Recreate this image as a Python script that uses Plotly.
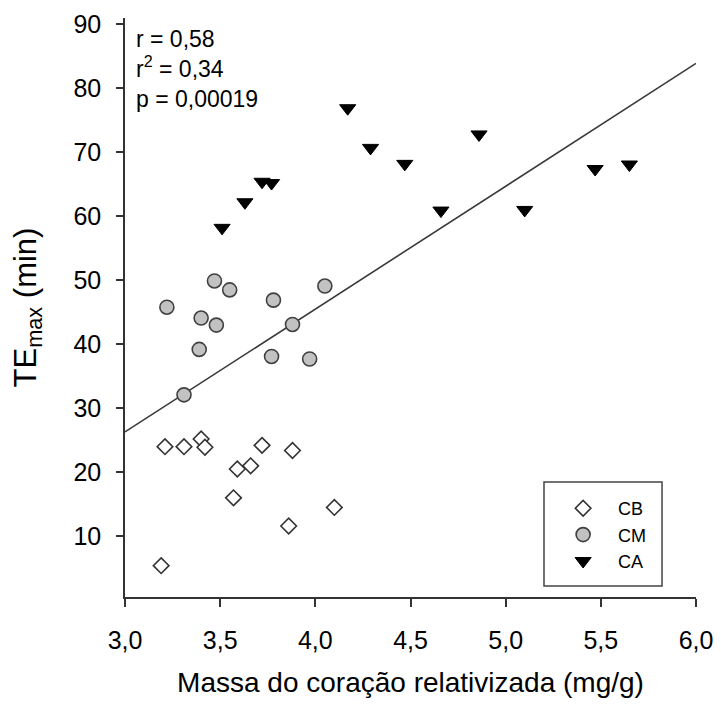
import plotly.graph_objects as go

# ---- data ----
cb_x = [3.19, 3.21, 3.31, 3.40, 3.42, 3.57, 3.59, 3.66, 3.72, 3.86, 3.88, 4.10]
cb_y = [5.4, 24.0, 24.0, 25.2, 23.9, 16.0, 20.5, 21.0, 24.2, 11.6, 23.4, 14.5]

cm_x = [3.22, 3.31, 3.39, 3.40, 3.47, 3.48, 3.55, 3.77, 3.78, 3.88, 3.97, 4.05]
cm_y = [45.8, 32.1, 39.2, 44.1, 49.9, 43.0, 48.5, 38.1, 46.9, 43.1, 37.7, 49.1]

ca_x = [3.51, 3.63, 3.72, 3.77, 4.17, 4.29, 4.47, 4.66, 4.86, 5.10, 5.47, 5.65]
ca_y = [58.2, 62.2, 65.4, 65.2, 76.9, 70.7, 68.2, 60.9, 72.8, 61.0, 67.4, 68.1]

reg_intercept = -31.3
reg_slope = 19.2
x_range = [3.0, 6.0]
y_range = [0.5, 91]

x_ticks = [3.0, 3.5, 4.0, 4.5, 5.0, 5.5, 6.0]
x_ticklabels = ["3,0", "3,5", "4,0", "4,5", "5,0", "5,5", "6,0"]
y_ticks = [10, 20, 30, 40, 50, 60, 70, 80, 90]
y_ticklabels = ["10", "20", "30", "40", "50", "60", "70", "80", "90"]

stats_text = "r = 0,58<br>r<sup>2</sup> = 0,34<br>p = 0,00019"

FONT = "Liberation Sans, Arial, sans-serif"
AX = "#333333"

fig = go.Figure()

line_x = x_range
line_y = [reg_intercept + reg_slope * v for v in line_x]
fig.add_trace(go.Scatter(x=line_x, y=line_y, mode="lines",
                         line=dict(color="#3a3a3a", width=1.6),
                         showlegend=False, hoverinfo="skip"))

fig.add_trace(go.Scatter(x=cb_x, y=cb_y, mode="markers", name="CB",
                         marker=dict(symbol="diamond", size=12, color="white",
                                     line=dict(color="#333333", width=1.6))))
fig.add_trace(go.Scatter(x=cm_x, y=cm_y, mode="markers", name="CM",
                         marker=dict(symbol="circle", size=14, color="#c2c2c2",
                                     line=dict(color="#404040", width=1.6))))
fig.add_trace(go.Scatter(x=ca_x, y=ca_y, mode="markers", name="CA",
                         marker=dict(symbol="triangle-down", size=14, color="black",
                                     line=dict(color="black", width=1))))

fig.add_annotation(x=0.0, y=1.0, xref="paper", yref="paper",
                   xanchor="left", yanchor="top", xshift=9, yshift=-6,
                   text=stats_text, showarrow=False, align="left",
                   font=dict(family=FONT, size=23, color="black"))

# legend frame
fig.add_shape(type="rect", xref="paper", yref="paper",
              x0=0.7338, x1=0.9405, y0=0.019, y1=0.1986,
              line=dict(color="#444444", width=1.5), fillcolor="rgba(0,0,0,0)",
              layer="above")

fig.update_xaxes(range=x_range, tickvals=x_ticks, ticktext=x_ticklabels,
                 showgrid=False, zeroline=False, showline=True, automargin=False,
                 linecolor=AX, linewidth=1.5, ticks="outside", ticklen=8,
                 tickwidth=1.5, tickcolor=AX, ticklabelstandoff=12,
                 tickfont=dict(family=FONT, size=25, color="black"),
                 title=dict(text="Massa do coração relativizada (mg/g)",
                            font=dict(family=FONT, size=28, color="black"),
                            standoff=20))
fig.update_yaxes(range=y_range, tickvals=y_ticks, ticktext=y_ticklabels,
                 showgrid=False, zeroline=False, showline=True, automargin=False,
                 linecolor=AX, linewidth=1.5, ticks="outside", ticklen=7,
                 tickwidth=1.5, tickcolor=AX, ticklabelstandoff=10,
                 tickfont=dict(family=FONT, size=25, color="black"),
                 title=dict(text="TE<sub>max</sub> (min)",
                            font=dict(family=FONT, size=31, color="black"),
                            standoff=30))

fig.update_layout(
    width=713, height=702,
    margin=dict(l=117, r=25, t=10, b=113),
    paper_bgcolor="white", plot_bgcolor="white",
    font=dict(family=FONT, color="black"),
    legend=dict(x=0.741, y=0.1848, xanchor="left", yanchor="top",
                borderwidth=0, bgcolor="rgba(0,0,0,0)",
                itemwidth=60, font=dict(family=FONT, size=18, color="black")),
)

fig.write_html("out.html")
